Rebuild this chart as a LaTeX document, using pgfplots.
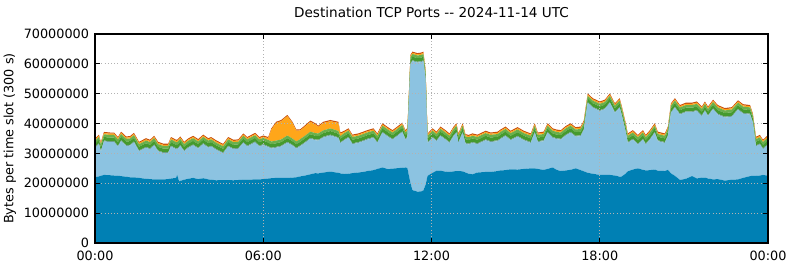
\documentclass[border=0pt]{standalone}
\usepackage{pgfplots}
\usepackage{pgfplotstable}
\pgfplotsset{compat=1.18}
\usepackage{fontspec}
\setmainfont{DejaVu Sans}
\definecolor{cA}{HTML}{0080B4}
\definecolor{cB}{HTML}{8CC3E1}
\definecolor{cC}{HTML}{6E9E8C}
\definecolor{cD}{HTML}{459A2E}
\definecolor{cE}{HTML}{6AB04C}
\definecolor{cO}{HTML}{FFA61A}
\definecolor{cR}{HTML}{C8500A}
\pgfplotstableread{
t A B C D E O R
0.00 22.0 9.8 0.3 1.2 0.9 0.4 0.4
0.14 22.3 10.8 0.3 1.2 0.9 0.4 0.4
0.21 22.5 8.1 0.3 1.2 0.9 0.4 0.4
0.32 22.8 11.2 0.3 1.2 0.9 0.4 0.4
0.54 22.7 11.1 0.3 1.2 0.9 0.4 0.4
0.68 22.6 11.2 0.3 1.2 0.9 0.4 0.4
0.82 22.5 9.8 0.3 1.2 0.9 0.4 0.4
0.93 22.4 11.7 0.3 1.2 0.9 0.4 0.4
1.11 22.2 10.3 0.3 1.2 0.9 0.4 0.4
1.25 22.0 10.6 0.3 1.2 0.9 0.4 0.4
1.39 22.0 11.7 0.3 1.2 0.9 0.4 0.4
1.57 21.8 8.9 0.3 1.2 0.9 0.4 0.4
1.82 21.5 10.4 0.3 1.2 0.9 0.4 0.4
1.96 21.4 10.0 0.3 1.2 0.9 0.4 0.4
2.11 21.3 11.4 0.3 1.2 0.9 0.4 0.4
2.25 21.3 9.4 0.3 1.2 0.9 0.4 0.4
2.43 21.3 8.8 0.3 1.2 0.9 0.4 0.4
2.61 21.4 8.7 0.3 1.2 0.9 0.4 0.4
2.71 21.6 10.7 0.3 1.2 0.9 0.4 0.4
2.89 21.8 9.6 0.3 1.2 0.9 0.4 0.4
2.93 22.8 8.6 0.3 1.2 0.9 0.4 0.4
3.00 20.6 11.4 0.3 1.2 0.9 0.4 0.4
3.04 20.8 11.7 0.3 1.2 0.9 0.4 0.4
3.18 21.2 9.5 0.3 1.2 0.9 0.4 0.4
3.32 21.5 10.3 0.3 1.2 0.9 0.4 0.4
3.50 21.8 10.9 0.3 1.2 0.9 0.4 0.4
3.68 21.4 10.2 0.3 1.2 0.9 0.4 0.4
3.86 21.7 11.4 0.3 1.2 0.9 0.4 0.4
4.04 21.3 10.6 0.3 1.2 0.9 0.4 0.4
4.14 21.2 11.1 0.3 1.2 0.9 0.4 0.4
4.32 21.0 10.2 0.3 1.2 0.9 0.4 0.4
4.57 21.1 8.9 0.3 1.2 0.9 0.4 0.4
4.75 21.1 11.2 0.3 1.2 0.9 0.4 0.4
4.93 21.0 10.4 0.3 1.2 0.9 0.4 0.4
5.11 21.1 10.4 0.3 1.2 0.9 0.4 0.4
5.29 21.2 12.3 0.3 1.2 0.9 0.4 0.4
5.43 21.2 11.1 0.3 1.2 0.9 0.4 0.4
5.71 21.3 12.4 0.3 1.2 0.9 0.4 0.4
5.86 21.3 11.0 0.3 1.2 0.9 0.4 0.4
6.00 21.4 11.4 0.3 1.2 0.9 0.4 0.4
6.18 21.6 10.5 0.3 1.2 0.9 0.6 0.4
6.29 21.7 9.9 0.3 1.2 0.9 4.0 0.4
6.46 21.8 10.1 0.3 1.2 0.9 5.9 0.4
6.64 21.8 10.5 0.3 1.2 0.9 6.1 0.4
6.86 21.8 11.8 0.3 1.2 0.9 6.5 0.4
7.04 21.9 10.7 0.3 1.2 0.9 5.2 0.4
7.18 22.0 9.6 0.3 1.2 0.9 3.6 0.4
7.32 22.3 10.1 0.3 1.2 0.9 2.9 0.4
7.50 22.6 11.0 0.3 1.2 0.9 3.1 0.4
7.68 23.0 11.9 0.3 1.2 0.9 3.3 0.4
7.86 23.4 11.0 0.3 1.2 0.9 2.9 0.4
7.96 23.3 11.0 0.3 1.2 0.9 2.2 0.4
8.14 23.6 11.7 0.3 1.2 0.9 2.5 0.4
8.39 23.9 12.1 0.3 1.2 0.9 2.4 0.4
8.68 23.5 11.6 0.3 1.2 0.9 2.7 0.4
8.75 23.3 10.1 0.3 1.2 0.9 0.8 0.4
8.89 23.1 11.3 0.3 1.2 0.9 0.4 0.4
9.04 23.2 12.0 0.3 1.2 0.9 0.4 0.4
9.18 23.4 9.7 0.3 1.2 0.9 0.4 0.4
9.39 23.6 9.9 0.3 1.2 0.9 0.4 0.4
9.57 23.8 10.3 0.3 1.2 0.9 0.4 0.4
9.71 24.1 10.5 0.3 1.2 0.9 0.4 0.4
9.93 24.4 10.8 0.3 1.2 0.9 0.4 0.4
10.07 24.8 8.7 0.3 1.2 0.9 0.4 0.4
10.25 25.3 11.6 0.3 1.2 0.9 0.4 0.4
10.46 24.7 10.8 0.3 1.2 0.9 0.4 0.4
10.61 24.9 9.7 0.3 1.2 0.9 0.4 0.4
10.71 25.0 10.3 0.3 1.2 0.9 0.4 0.4
10.96 25.2 11.9 0.3 1.2 0.9 0.4 0.4
11.07 25.3 9.3 0.3 1.2 0.9 0.4 0.4
11.14 25.1 10.2 0.3 1.2 0.9 0.4 0.4
11.25 20.0 39.8 0.3 1.2 0.9 0.4 0.4
11.32 17.7 43.2 0.3 1.2 0.9 0.4 0.4
11.50 17.2 43.2 0.3 1.2 0.9 0.4 0.4
11.64 17.3 43.3 0.3 1.2 0.9 0.4 0.4
11.71 17.6 43.3 0.3 1.2 0.9 0.4 0.4
11.79 19.5 35.3 0.3 1.2 0.9 0.4 0.4
11.86 22.5 11.0 0.3 1.2 0.9 0.4 0.4
12.04 23.5 11.7 0.3 1.2 0.9 0.4 0.4
12.18 24.2 9.9 0.3 1.2 0.9 0.4 0.4
12.32 24.2 11.6 0.3 1.2 0.9 0.4 0.4
12.50 23.9 10.7 0.3 1.2 0.9 0.4 0.4
12.64 23.8 9.7 0.3 1.2 0.9 0.4 0.4
12.79 24.0 11.8 0.3 1.2 0.9 0.4 0.4
12.89 24.1 12.8 0.3 1.2 0.9 0.4 0.4
12.96 24.1 9.4 0.3 1.2 0.9 0.4 0.4
13.11 24.0 12.9 0.3 1.2 0.9 0.4 0.4
13.21 23.6 9.7 0.3 1.2 0.9 0.4 0.4
13.32 23.2 9.8 0.3 1.2 0.9 0.4 0.4
13.46 23.0 10.5 0.3 1.2 0.9 0.4 0.4
13.64 23.6 9.5 0.3 1.2 0.9 0.4 0.4
13.93 23.8 10.6 0.3 1.2 0.9 0.4 0.4
14.11 23.8 10.0 0.3 1.2 0.9 0.4 0.4
14.36 24.1 10.0 0.3 1.2 0.9 0.4 0.4
14.46 24.3 10.5 0.3 1.2 0.9 0.4 0.4
14.64 24.4 11.4 0.3 1.2 0.9 0.4 0.4
14.82 24.7 9.7 0.3 1.2 0.9 0.4 0.4
15.07 24.6 11.0 0.3 1.2 0.9 0.4 0.4
15.29 24.8 9.6 0.3 1.2 0.9 0.4 0.4
15.54 25.0 8.5 0.3 1.2 0.9 0.4 0.4
15.68 25.0 11.9 0.3 1.2 0.9 0.4 0.4
15.79 24.8 9.0 0.3 1.2 0.9 0.4 0.4
16.00 24.5 9.6 0.3 1.2 0.9 0.4 0.4
16.14 24.8 12.1 0.3 1.2 0.9 0.4 0.4
16.32 25.3 9.9 0.3 1.2 0.9 0.4 0.4
16.46 24.5 10.3 0.3 1.2 0.9 0.4 0.4
16.61 24.1 10.5 0.3 1.2 0.9 0.4 0.4
16.79 24.3 11.7 0.3 1.2 0.9 0.4 0.4
16.96 24.5 12.4 0.3 1.2 0.9 0.4 0.4
17.14 25.0 10.6 0.3 1.2 0.9 0.4 0.4
17.32 24.4 11.4 0.3 1.2 0.9 0.4 0.4
17.43 24.0 13.8 0.3 1.2 0.9 0.4 0.4
17.57 23.5 23.4 0.3 1.2 0.9 0.4 0.4
17.75 23.2 22.1 0.3 1.2 0.9 0.4 0.4
18.00 22.8 21.4 0.3 1.2 0.9 0.4 0.4
18.18 22.8 22.0 0.3 1.2 0.9 0.4 0.4
18.36 22.8 24.1 0.3 1.2 0.9 0.4 0.4
18.54 22.6 21.0 0.3 1.2 0.9 0.4 0.4
18.71 22.2 23.1 0.3 1.2 0.9 0.4 0.4
18.79 22.3 20.2 0.3 1.2 0.9 0.4 0.4
18.93 23.3 13.6 0.3 1.2 0.9 0.4 0.4
19.00 24.0 9.5 0.3 1.2 0.9 0.4 0.4
19.18 24.6 10.0 0.3 1.2 0.9 0.4 0.4
19.36 25.0 8.0 0.3 1.2 0.9 0.4 0.4
19.54 24.5 10.1 0.3 1.2 0.9 0.4 0.4
19.64 24.3 8.7 0.3 1.2 0.9 0.4 0.4
19.79 24.4 10.2 0.3 1.2 0.9 0.4 0.4
19.96 24.6 12.3 0.3 1.2 0.9 0.4 0.4
20.07 24.2 9.9 0.3 1.2 0.9 0.4 0.4
20.32 24.1 9.4 0.3 1.2 0.9 0.4 0.4
20.43 24.5 11.3 0.3 1.2 0.9 0.4 0.4
20.54 23.3 20.3 0.3 1.2 0.9 0.4 0.4
20.68 22.5 22.8 0.3 1.2 0.9 0.4 0.4
20.86 21.1 21.9 0.3 1.2 0.9 0.4 0.4
21.07 21.5 22.3 0.3 1.2 0.9 0.4 0.4
21.29 22.4 21.4 0.3 1.2 0.9 0.4 0.4
21.46 21.6 22.6 0.3 1.2 0.9 0.4 0.4
21.64 21.9 20.6 0.3 1.2 0.9 0.4 0.4
21.75 21.9 22.3 0.3 1.2 0.9 0.4 0.4
21.86 21.6 20.9 0.3 1.2 0.9 0.4 0.4
22.04 21.3 23.5 0.3 1.2 0.9 0.4 0.4
22.21 21.4 21.6 0.3 1.2 0.9 0.4 0.4
22.46 20.9 21.1 0.3 1.2 0.9 0.4 0.4
22.71 21.2 21.1 0.3 1.2 0.9 0.4 0.4
22.93 21.3 23.3 0.3 1.2 0.9 0.4 0.4
23.11 21.8 21.5 0.3 1.2 0.9 0.4 0.4
23.36 22.4 20.6 0.3 1.2 0.9 0.4 0.4
23.46 22.5 17.7 0.3 1.2 0.9 0.4 0.4
23.57 22.5 9.9 0.3 1.2 0.9 0.4 0.4
23.71 22.6 10.4 0.3 1.2 0.9 0.4 0.4
23.82 22.8 8.6 0.3 1.2 0.9 0.4 0.4
23.96 22.6 10.0 0.3 1.2 0.9 0.4 0.4
24.00 19.0 5.8 0.3 1.2 0.9 0.4 0.4
}\data
\begin{document}
\begin{tikzpicture}
\begin{axis}[
  scale only axis,
  width=504.75pt, height=156.75pt,
  xmin=0, xmax=24, ymin=0, ymax=70,
  stack plots=y,
  area style,
  axis on top,
  xtick={0,6,12,18,24},
  xticklabels={00:00,06:00,12:00,18:00,00:00},
  ytick={0,10,20,30,40,50,60,70},
  yticklabels={0,10000000,20000000,30000000,40000000,50000000,60000000,70000000},
  tick label style={font=\fontsize{9.6pt}{11pt}\selectfont},
  xticklabel style={yshift=-2.5pt},
  yticklabel style={xshift=-1pt},
  label style={font=\fontsize{9.6pt}{11pt}\selectfont},
  title style={font=\fontsize{10.2pt}{12pt}\selectfont, yshift=3pt},
  title={Destination TCP Ports {-}{-} 2024-11-14 UTC},
  ylabel={Bytes per time slot (300 s)},
  ylabel style={yshift=-1pt},
  grid=major,
  major grid style={gray!60, dotted, line width=0.6pt},
  tick align=inside,
  major tick length=4pt,
  tick style={black, line width=0.6pt},
  axis line style={black, line width=0.8pt},
  /pgf/number format/assume math mode=true,
  every axis plot/.append style={line width=0pt, draw=none},
]
\addplot[fill=cA, draw=none] table[x=t,y=A]{\data} \closedcycle;
\addplot[fill=cB, draw=none] table[x=t,y=B]{\data} \closedcycle;
\addplot[fill=cC, draw=none] table[x=t,y=C]{\data} \closedcycle;
\addplot[fill=cD, draw=none] table[x=t,y=D]{\data} \closedcycle;
\addplot[fill=cE, draw=none] table[x=t,y=E]{\data} \closedcycle;
\addplot[fill=cO, draw=none] table[x=t,y=O]{\data} \closedcycle;
\addplot[fill=cR, draw=none] table[x=t,y=R]{\data} \closedcycle;
\end{axis}
\pgfresetboundingbox
\path[use as bounding box] ([xshift=-71.25pt,yshift=-18pt]current axis.south west) rectangle ([xshift=16.5pt,yshift=25.5pt]current axis.north east);
\end{tikzpicture}
\end{document}
